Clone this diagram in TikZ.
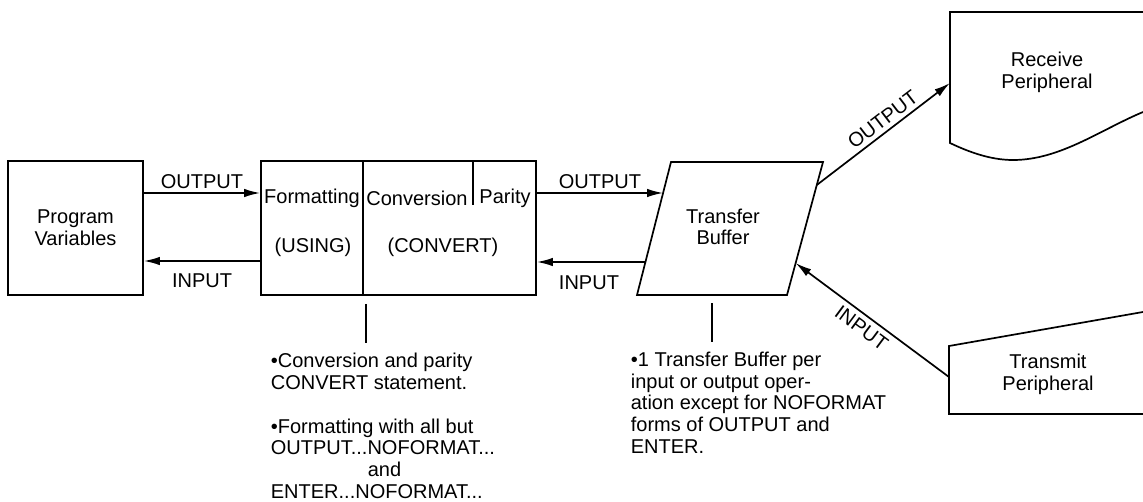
\documentclass[tikz,border=0pt]{standalone}
\usepackage{fontspec}
\setmainfont{Liberation Sans}
\usetikzlibrary{arrows.meta,calc}
\begin{document}
\begin{tikzpicture}[x=1pt,y=-1pt, line width=1.7pt,
  every node/.style={font=\fontsize{20}{21.7}\selectfont, inner sep=0pt},
  arr/.style={-{Latex[length=16pt,width=8.5pt]}},
  boxnode/.style={draw, minimum height=134pt, align=center}]
\clip (0,0) rectangle (1143,501);
\fill[white] (0,0) rectangle (1143,501);
% Program Variables
\node[boxnode, minimum width=135pt] (pv) at (75.5,228) {Program\\Variables};
% Big box
\node[boxnode, minimum width=102pt] (fmt) at (312,228) {};
\node[boxnode, minimum width=173pt] (conv) at (449.5,228) {};
\draw (473,161) -- (473,205);
\node (tfmt) at (312,198) {Formatting};
\node (tconv) at (417,198) {Conversion};
\node (tpar) at (505,198) {Parity};
\node (tusing) at (313,247) {(USING)};
\node (tconvert) at (443,247) {(CONVERT)};
% Transfer buffer
\coordinate (tbl) at (637,295);
\coordinate (tbr) at (787,295);
\coordinate (ttr) at (823,162);
\coordinate (ttl) at (671,162);
\draw (tbl) -- (tbr) -- (ttr) -- (ttl) -- cycle;
\node[align=center] (tb) at (723,227) {Transfer\\Buffer};
\coordinate (tbinL) at ($(tbl)!0.767!(ttl)$);
\coordinate (tboutL) at ($(tbl)!0.248!(ttl)$);
\coordinate (tboutR) at ($(tbr)!0.827!(ttr)$);
\coordinate (tbinR) at ($(tbr)!0.24!(ttr)$);
% Receive peripheral
\draw (1160,12) -- (950,12) -- (950,143) .. controls (975,155) and (995,160) .. (1013,160)
   .. controls (1060,160) and (1100,130) .. (1143,112);
\coordinate (rpin) at (950,83);
\node[align=center] (rp) at (1047,72) {Receive\\Peripheral};
% Transmit peripheral
\draw (1160,309) -- (949,346) -- (949,414) -- (1160,414);
\coordinate (tpout) at (949,377);
\node[align=center] (tp) at (1048,374) {Transmit\\Peripheral};
% Arrows
\draw[arr] (pv.east |- 0,193) -- node[above=3pt] {OUTPUT} (fmt.west |- 0,193);
\draw[arr] (fmt.west |- 0,261) -- node[below=12pt] {INPUT} (pv.east |- 0,261);
\draw[arr] (conv.east |- 0,193) -- node[above=3pt] {OUTPUT} (tbinL);
\draw[arr] (tboutL) -- node[pos=0.52, below=13pt] {INPUT} (conv.east |- 0,262);
\draw[arr] (tboutR) -- node[pos=0.55, sloped, above=4pt] {OUTPUT} (rpin);
\draw[arr] (tpout) -- node[pos=0.52, sloped, below=5pt] {INPUT} (tbinR);
% Note leaders
\draw ([xshift=2pt,yshift=-8pt]fmt.south east) -- ++(0,39);
\coordinate (tbbot) at ($(tbl)!0.5!(tbr)+(0,8)$);
\draw (tbbot) -- ++(0,39);
% Notes
\node[anchor=north west, align=left] (noteL) at (270,352) {\textbullet Conversion and parity\\CONVERT statement.\\[22.5pt]\textbullet Formatting with all but\\OUTPUT...NOFORMAT...\\\hspace*{97pt}and\\ENTER...NOFORMAT...};
\node[anchor=north west, align=left] (noteR) at (630,351) {\textbullet 1 Transfer Buffer per\\input or output oper-\\ation except for NOFORMAT\\forms of OUTPUT and\\ENTER.};
\end{tikzpicture}
\end{document}
